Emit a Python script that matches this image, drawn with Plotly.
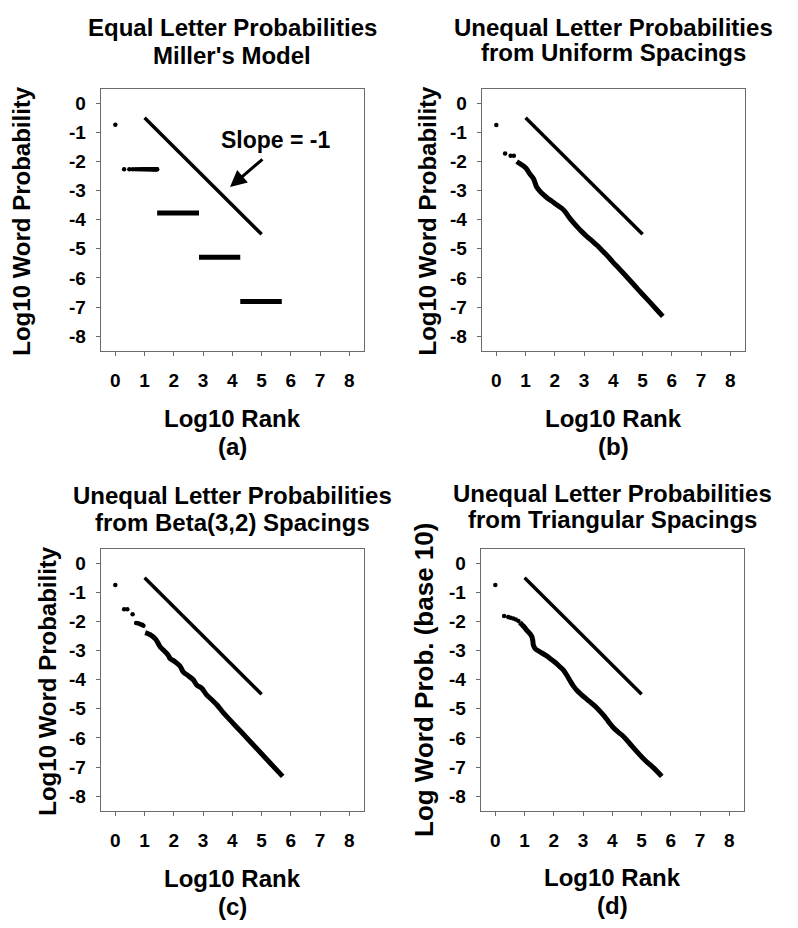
import plotly.graph_objects as go

W, H = 798, 928
FONT = "Liberation Sans, Arial, sans-serif"

# ---------------- data ----------------
x_ticks = [0, 1, 2, 3, 4, 5, 6, 7, 8]
y_ticks = [0, -1, -2, -3, -4, -5, -6, -7, -8]

# reference line of slope -1
slope_x = [1.0, 5.0]
slope_y = [-0.5, -4.5]

# (a) Miller's model
a_top_x = [0.0]
a_top_y = [-0.74]
a_dots_x = [0.30, 0.48, 0.60, 0.70, 0.78, 0.85, 0.90, 0.95, 1.00, 1.04, 1.08, 1.11, 1.15,
            1.18, 1.20, 1.23, 1.26, 1.28, 1.30, 1.32, 1.34, 1.36, 1.38, 1.40, 1.41, 1.43]
a_dots_y = [-2.27] * len(a_dots_x)
a_band_start = [1.43, 2.86, 4.27]
a_band_end = [2.86, 4.27, 5.69]
a_band_y = [-3.77, -5.29, -6.81]

# (b) uniform spacings
b_dots_x = [0.0, 0.30, 0.49, 0.60]
b_dots_y = [-0.75, -1.73, -1.80, -1.80]
b_curve_x = [0.70, 0.80, 0.92, 1.04, 1.13, 1.27, 1.33, 1.38, 1.50, 1.61, 1.75, 1.89, 2.05,
             2.24, 2.35, 2.46, 2.60, 2.75, 2.92, 3.09, 3.26, 3.43, 3.60, 3.77, 3.97, 4.17,
             4.50, 4.85, 5.20, 5.50, 5.69]
b_curve_y = [-2.00, -2.07, -2.15, -2.26, -2.41, -2.59, -2.75, -2.88, -3.03, -3.14, -3.26,
             -3.36, -3.48, -3.61, -3.72, -3.88, -4.06, -4.23, -4.41, -4.57, -4.72, -4.87,
             -5.04, -5.21, -5.44, -5.65, -6.01, -6.40, -6.78, -7.11, -7.32]

# (c) Beta(3,2) spacings
c_dots_x = [0.0, 0.30, 0.41, 0.59, 0.71, 0.77, 0.82, 0.87, 0.92, 0.96]
c_dots_y = [-0.75, -1.58, -1.58, -1.75, -2.05, -2.06, -2.08, -2.10, -2.11, -2.15]
c_curve_x = [1.02, 1.19, 1.36, 1.47, 1.53, 1.64, 1.81, 1.87, 2.04, 2.21, 2.32, 2.50, 2.67,
             2.78, 2.95, 3.12, 3.30, 3.47, 3.69, 3.86, 4.30, 4.80, 5.30, 5.72]
c_curve_y = [-2.38, -2.45, -2.59, -2.76, -2.87, -2.98, -3.16, -3.27, -3.38, -3.53, -3.73,
             -3.87, -4.01, -4.18, -4.29, -4.52, -4.69, -4.86, -5.13, -5.32, -5.79, -6.33,
             -6.87, -7.32]

# (d) triangular spacings
d_dots_x = [0.0, 0.30, 0.44, 0.52, 0.61, 0.70, 0.79]
d_dots_y = [-0.75, -1.81, -1.85, -1.87, -1.90, -1.93, -1.98]
d_curve_x = [0.84, 0.90, 1.00, 1.07, 1.13, 1.24, 1.28, 1.30, 1.36, 1.52, 1.70, 1.87, 2.05, 2.21,
             2.32, 2.44, 2.55, 2.67, 2.80, 2.95, 3.15, 3.35, 3.52, 3.69, 3.86, 4.03, 4.20,
             4.38, 4.60, 4.83, 5.10, 5.40, 5.69]
d_curve_y = [-2.03, -2.10, -2.20, -2.30, -2.36, -2.50, -2.65, -2.81, -2.93, -3.04, -3.15, -3.27,
             -3.41, -3.56, -3.66, -3.84, -4.03, -4.22, -4.38, -4.52, -4.69, -4.86, -5.02,
             -5.21, -5.43, -5.64, -5.80, -5.95, -6.20, -6.46, -6.75, -7.02, -7.32]

titles = [
    ("Equal Letter Probabilities", "Miller's Model"),
    ("Unequal Letter Probabilities", "from Uniform Spacings"),
    ("Unequal Letter Probabilities", "from Beta(3,2) Spacings"),
    ("Unequal Letter Probabilities", "from Triangular Spacings"),
]
y_titles = ["Log10 Word Probability", "Log10 Word Probability",
            "Log10 Word Probability", "Log Word Prob. (base 10)"]
x_title = "Log10 Rank"
panel_tags = ["(a)", "(b)", "(c)", "(d)"]

# ---------------- layout geometry (pixels) ----------------
boxes = [  # left, right, top, bottom
    (100.7, 364.0, 88.7, 350.7),
    (481.7, 745.0, 88.7, 350.7),
    (100.7, 364.0, 548.7, 810.7),
    (480.7, 744.0, 548.7, 810.7),
]
title_y = [(27.5, 55.0), (27.5, 52.5), (495.0, 522.0), (493.5, 519.0)]
xtitle_y = [418, 418, 878, 877]
tag_y = [446, 446, 906, 905]
ytitle_pos = [(21.7, 221), (427.5, 221), (46.7, 681), (424, 680)]
ytitle_size = [24, 24, 24, 26]

def px(x):
    return x / W

def py(y):
    return 1 - y / H

fig = go.Figure()

BLACK = "black"

def add_panel_traces(i, xs, ys, mode, **kw):
    ax = "" if i == 0 else str(i + 1)
    fig.add_trace(go.Scatter(x=xs, y=ys, mode=mode, xaxis="x" + ax, yaxis="y" + ax,
                             showlegend=False, hoverinfo="skip", **kw))

# slope lines on all panels
for i in range(4):
    add_panel_traces(i, slope_x, slope_y, "lines", line=dict(color=BLACK, width=3.5))

# (a)
add_panel_traces(0, a_top_x, a_top_y, "markers", marker=dict(color=BLACK, size=4.5))
add_panel_traces(0, a_dots_x, a_dots_y, "markers", marker=dict(color=BLACK, size=4.5))
for xs0, xs1, yv in zip(a_band_start, a_band_end, a_band_y):
    add_panel_traces(0, [xs0, xs1], [yv, yv], "lines", line=dict(color=BLACK, width=5))

# (b),(c),(d)
for i, (dx, dy, cx, cy) in enumerate([
        (b_dots_x, b_dots_y, b_curve_x, b_curve_y),
        (c_dots_x, c_dots_y, c_curve_x, c_curve_y),
        (d_dots_x, d_dots_y, d_curve_x, d_curve_y)], start=1):
    add_panel_traces(i, dx, dy, "markers", marker=dict(color=BLACK, size=4.5))
    add_panel_traces(i, cx, cy, "lines", line=dict(color=BLACK, width=5, shape="spline"))

layout = dict(
    width=W, height=H,
    margin=dict(l=0, r=0, t=0, b=0),
    paper_bgcolor="white", plot_bgcolor="white",
    showlegend=False,
)

annotations = []
for i, (l, r, t, b) in enumerate(boxes):
    ax = "" if i == 0 else str(i + 1)
    common = dict(showgrid=False, zeroline=False, showline=True, mirror=True,
                  linecolor="#6b6b6b", linewidth=1, ticks="outside", ticklen=4,
                  tickwidth=1, tickcolor="#6b6b6b",
                  tickfont=dict(family=FONT, size=19, color=BLACK, weight="bold"),
                  fixedrange=True)
    layout["xaxis" + ax] = dict(domain=[px(l), px(r)], range=[-0.5, 8.5],
                                tickvals=x_ticks, ticktext=[str(v) for v in x_ticks],
                                anchor="y" + ax, ticklabelstandoff=8, **common)
    layout["yaxis" + ax] = dict(domain=[py(b), py(t)], range=[-8.5, 0.5],
                                tickvals=y_ticks, ticktext=[str(v) for v in y_ticks],
                                anchor="x" + ax, ticklabelstandoff=6, **common)
    cx = (l + r) / 2
    tf = dict(family=FONT, size=24, color=BLACK, weight="bold")
    t1, t2 = titles[i]
    annotations.append(dict(text=t1, x=px(cx), y=py(title_y[i][0]), xref="paper", yref="paper",
                            xanchor="center", yanchor="middle", showarrow=False, font=tf))
    annotations.append(dict(text=t2, x=px(cx), y=py(title_y[i][1]), xref="paper", yref="paper",
                            xanchor="center", yanchor="middle", showarrow=False, font=tf))
    annotations.append(dict(text=x_title, x=px(cx), y=py(xtitle_y[i]), xref="paper", yref="paper",
                            xanchor="center", yanchor="middle", showarrow=False, font=tf))
    annotations.append(dict(text=panel_tags[i], x=px(cx), y=py(tag_y[i]), xref="paper", yref="paper",
                            xanchor="center", yanchor="middle", showarrow=False, font=tf))
    yx, yy = ytitle_pos[i]
    annotations.append(dict(text=y_titles[i], x=px(yx), y=py(yy), xref="paper", yref="paper",
                            xanchor="center", yanchor="middle", showarrow=False, textangle=-90,
                            font=dict(family=FONT, size=ytitle_size[i], color=BLACK, weight="bold")))

# Slope annotation in panel (a)
annotations.append(dict(text="Slope = -1", x=5.49, y=-1.26, xref="x", yref="y",
                        xanchor="center", yanchor="middle", showarrow=False,
                        font=dict(family=FONT, size=23, color=BLACK, weight="bold")))
annotations.append(dict(text="", x=3.92, y=-2.88, ax=5.08, ay=-1.88, xref="x", yref="y",
                        axref="x", ayref="y", showarrow=True, arrowhead=2, arrowsize=1.1,
                        arrowwidth=3, arrowcolor=BLACK))

layout["annotations"] = annotations
fig.update_layout(**layout)
fig.write_html("out.html", config={"displayModeBar": False},
               post_script="document.body.style.margin='0';document.body.style.overflow='hidden';")
